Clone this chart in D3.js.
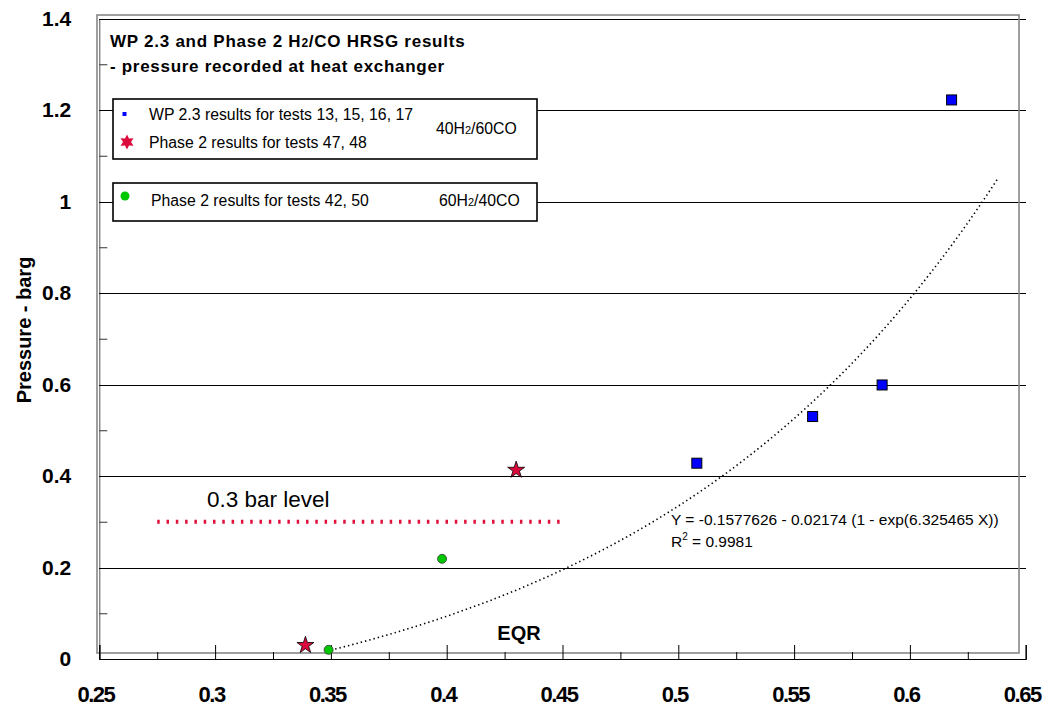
<!DOCTYPE html>
<html>
<head>
<meta charset="utf-8">
<script src="https://cdn.jsdelivr.net/npm/d3@7"></script>
<style>
  body { margin: 0; background: #fff; }
  svg { font-family: "Liberation Sans", Arial, sans-serif; }
</style>
</head>
<body>
<div id="canvas"></div>
<script>
// data
var wpX = [0.508, 0.558, 0.588, 0.618];      // WP 2.3 tests 13, 15, 16, 17
var wpY = [0.428, 0.530, 0.599, 1.222];
var ph4060X = [0.339, 0.430];                 // Phase 2 tests 47, 48
var ph4060Y = [0.030, 0.413];
var ph6040X = [0.349, 0.398];                 // Phase 2 tests 42, 50
var ph6040Y = [0.020, 0.219];
var fitCoef = [-0.1577626, 0.02174, 6.325465]; // Y = a - b (1 - exp(c X))
var fitRange = [0.35, 0.638];
var barLevel = [0.275, 0.45, 0.3];             // x from, x to, level
var xTicks = [0.25, 0.3, 0.35, 0.4, 0.45, 0.5, 0.55, 0.6, 0.65];
var xMinor = [0.275, 0.325, 0.375, 0.425, 0.475, 0.525, 0.575, 0.625];
var yTicks = [0, 0.2, 0.4, 0.6, 0.8, 1, 1.2, 1.4];
var yMinor = [0.1, 0.3, 0.5, 0.7, 0.9, 1.1, 1.3];

var width = 1042, height = 708;
var pLeft = 99.3, pRight = 1025.7, pTop = 18.5, pBottom = 659;

var svg = d3.select("#canvas").append("svg")
  .attr("width", width)
  .attr("height", height);

var x = d3.scaleLinear().domain([0.25, 0.65]).range([pLeft, pRight]);
var y = d3.scaleLinear().domain([0, 1.4]).range([pBottom, pTop]);

// horizontal gridlines + y labels
var yAxis = svg.append("g")
  .attr("transform", "translate(" + pLeft + ",0)")
  .call(d3.axisLeft(y).tickValues(yTicks).tickSizeInner(-(pRight - pLeft)).tickSizeOuter(0)
    .tickPadding(28).tickFormat(d3.format("")));
yAxis.selectAll(".tick line").attr("stroke", "#000").attr("shape-rendering", "crispEdges");
yAxis.select(".domain").attr("stroke", "#555");
yAxis.selectAll("text").attr("font-size", 21).attr("font-weight", "bold").attr("fill", "#000")
  .attr("font-family", "Liberation Sans, Arial, sans-serif");

var yMin = svg.append("g")
  .attr("transform", "translate(" + pLeft + ",0)")
  .call(d3.axisLeft(y).tickValues(yMinor).tickSize(-8).tickFormat(""));
yMin.select(".domain").remove();
yMin.selectAll(".tick line").attr("stroke", "#333");

// gray frame
svg.append("rect")
  .attr("x", 97).attr("y", 15)
  .attr("width", 1019 - 97).attr("height", 653 - 15)
  .attr("fill", "none").attr("stroke", "#888").attr("stroke-width", 1.6);

// x axis
var xAxis = svg.append("g")
  .attr("transform", "translate(0," + pBottom + ")")
  .call(d3.axisBottom(x).tickValues(xTicks).tickSize(-14).tickPadding(35).tickFormat(d3.format("")));
xAxis.select(".domain").attr("stroke", "#000").attr("stroke-width", 1.2);
xAxis.selectAll(".tick line").attr("stroke", "#000");
xAxis.selectAll("text").attr("font-size", 22).attr("font-weight", "bold").attr("fill", "#000")
  .attr("letter-spacing", "-1.5px").attr("dy", "0.35em").attr("dx", -4)
  .attr("font-family", "Liberation Sans, Arial, sans-serif");

var xMin = svg.append("g")
  .attr("transform", "translate(0," + pBottom + ")")
  .call(d3.axisBottom(x).tickValues(xMinor).tickSize(-7).tickFormat(""));
xMin.select(".domain").remove();
xMin.selectAll(".tick line").attr("stroke", "#000");

// title
var title = svg.append("text").attr("x", 110).attr("y", 47)
  .attr("font-size", 17).attr("font-weight", "bold").attr("letter-spacing", "0.75px");
title.append("tspan").text("WP 2.3 and Phase 2 H");
title.append("tspan").attr("font-size", 12).text("2");
title.append("tspan").text("/CO HRSG results");
svg.append("text").attr("x", 110).attr("y", 72)
  .attr("font-size", 17).attr("font-weight", "bold").attr("letter-spacing", "0.7px")
  .text("- pressure recorded at heat exchanger");

// legend boxes
svg.append("rect").attr("x", 113).attr("y", 99).attr("width", 424).attr("height", 60)
  .attr("fill", "#fff").attr("stroke", "#000").attr("stroke-width", 1.6);
svg.append("rect").attr("x", 113).attr("y", 183).attr("width", 424).attr("height", 38)
  .attr("fill", "#fff").attr("stroke", "#000").attr("stroke-width", 1.6);

svg.append("rect").attr("x", 122.5).attr("y", 112).attr("width", 4).attr("height", 4).attr("fill", "#0000ff");
svg.append("text").attr("x", 149).attr("y", 120).attr("font-size", 15.8)
  .text("WP 2.3 results for tests 13, 15, 16, 17");

function hexStar(r1, r2) {
  var pts = [];
  for (var i = 0; i < 12; i++) {
    var a = i * Math.PI / 6 - Math.PI / 2;
    var r = i % 2 ? r2 : r1;
    pts.push([r * Math.cos(a), r * Math.sin(a)]);
  }
  return "M" + pts.join("L") + "Z";
}
svg.append("path").attr("d", hexStar(7.5, 4))
  .attr("transform", "translate(127,142)").attr("fill", "#dc0a3c");
svg.append("text").attr("x", 149).attr("y", 148).attr("font-size", 15.8)
  .text("Phase 2 results for tests 47, 48");

var l1 = svg.append("text").attr("x", 436).attr("y", 134).attr("font-size", 15.8);
l1.append("tspan").text("40H");
l1.append("tspan").attr("font-size", 11).text("2");
l1.append("tspan").text("/60CO");

svg.append("circle").attr("cx", 125).attr("cy", 196).attr("r", 4.5).attr("fill", "#00c800");
svg.append("text").attr("x", 151).attr("y", 206).attr("font-size", 15.8)
  .text("Phase 2 results for tests 42, 50");
var l2 = svg.append("text").attr("x", 439).attr("y", 206).attr("font-size", 15.8);
l2.append("tspan").text("60H");
l2.append("tspan").attr("font-size", 11).text("2");
l2.append("tspan").text("/40CO");

// 0.3 bar level line
svg.append("line")
  .attr("x1", x(barLevel[0])).attr("x2", x(barLevel[1]))
  .attr("y1", y(barLevel[2])).attr("y2", y(barLevel[2]))
  .attr("stroke", "#e0103c").attr("stroke-width", 4).attr("stroke-dasharray", "2.5,6.8");
svg.append("text").attr("x", 207).attr("y", 507).attr("font-size", 22.5).text("0.3 bar level");

// fitted trendline from the printed equation
var fitXs = d3.range(fitRange[0], fitRange[1], 0.004).concat([fitRange[1]]);
var line = d3.line()
  .x(function(d){ return x(d); })
  .y(function(d){ return y(fitCoef[0] - fitCoef[1] * (1 - Math.exp(fitCoef[2] * d))); });
svg.append("path").datum(fitXs).attr("d", line)
  .attr("fill", "none").attr("stroke", "#000").attr("stroke-width", 1.6)
  .attr("stroke-dasharray", "1.4,3");

svg.append("text").attr("x", 671).attr("y", 525).attr("font-size", 15.5)
  .text("Y = -0.1577626 - 0.02174 (1 - exp(6.325465 X))");
var r2 = svg.append("text").attr("x", 671).attr("y", 547).attr("font-size", 15.5);
r2.append("tspan").text("R");
r2.append("tspan").attr("font-size", 10).attr("dy", -7).text("2");
r2.append("tspan").attr("dy", 7).text(" = 0.9981");

svg.append("text").attr("x", 519).attr("y", 640).attr("text-anchor", "middle")
  .attr("font-size", 20).attr("font-weight", "bold").text("EQR");

svg.append("text")
  .attr("transform", "translate(31,330) rotate(-90)")
  .attr("text-anchor", "middle").attr("font-size", 20).attr("font-weight", "bold")
  .text("Pressure - barg");

// points
svg.selectAll(".wp").data(wpX).enter().append("rect")
  .attr("x", function(d){ return x(d) - 5; })
  .attr("y", function(d, i){ return y(wpY[i]) - 5; })
  .attr("width", 10).attr("height", 10)
  .attr("fill", "#0000ff").attr("stroke", "#000").attr("stroke-width", 1);

svg.selectAll(".g").data(ph6040X).enter().append("circle")
  .attr("cx", function(d){ return x(d); })
  .attr("cy", function(d, i){ return y(ph6040Y[i]); })
  .attr("r", 4.5)
  .attr("fill", "#00c800").attr("stroke", "#333").attr("stroke-width", 0.8);

svg.selectAll(".st").data(ph4060X).enter().append("path")
  .attr("d", d3.symbol().type(d3.symbolStar).size(90))
  .attr("transform", function(d, i){ return "translate(" + x(d) + "," + y(ph4060Y[i]) + ")"; })
  .attr("fill", "#dc0a3c").attr("stroke", "#000").attr("stroke-width", 0.8);
</script>
</body>
</html>
